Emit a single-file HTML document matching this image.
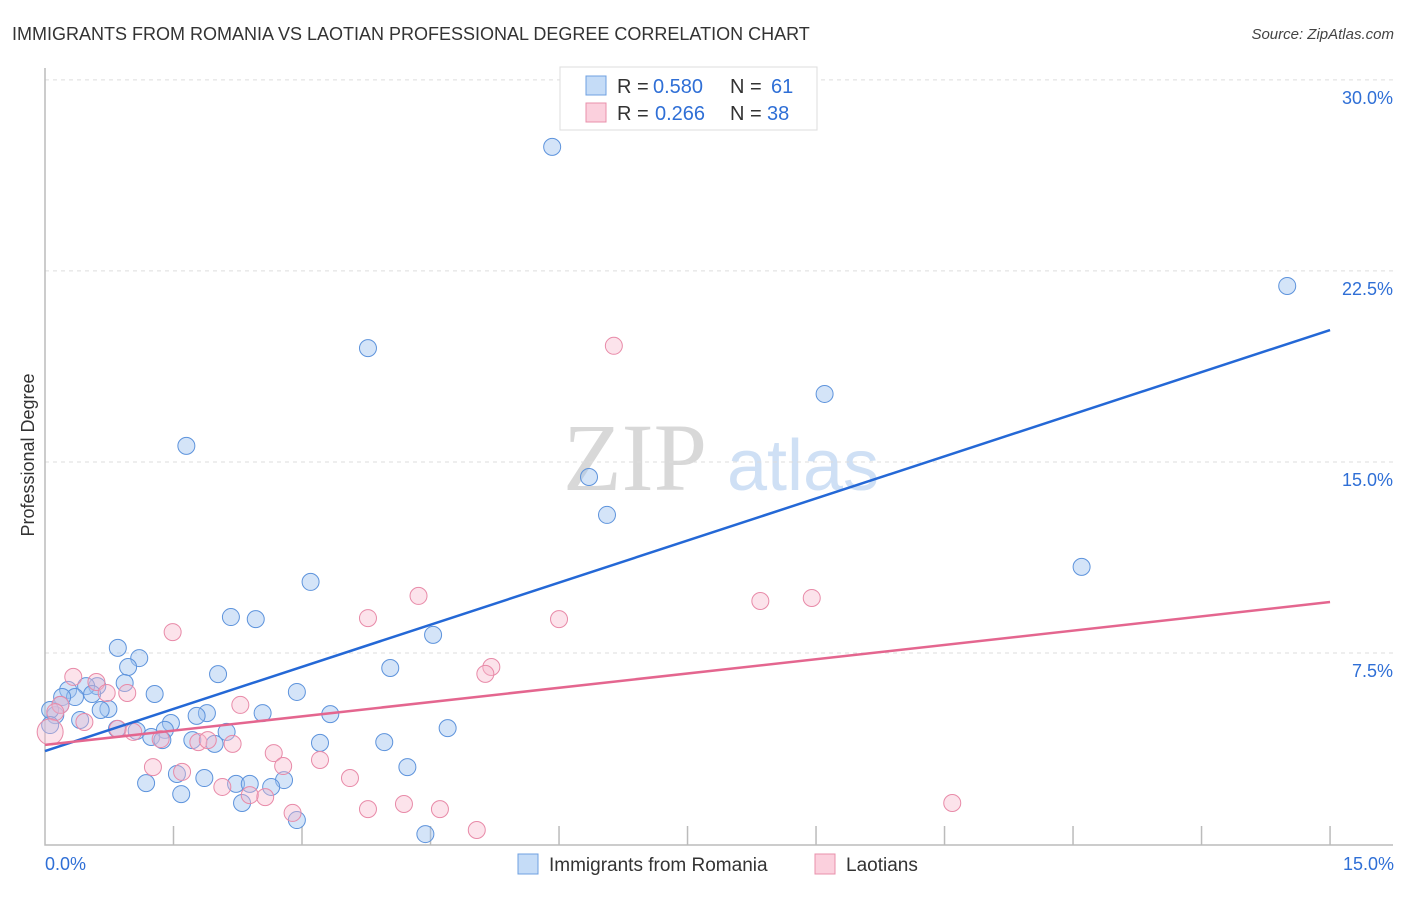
<!DOCTYPE html>
<html><head><meta charset="utf-8"><style>
body{margin:0;background:#fff;font-family:"Liberation Sans",sans-serif;}
</style></head><body>
<svg width="1406" height="892" viewBox="0 0 1406 892" font-family="Liberation Sans, sans-serif">
<text x="12" y="40" font-size="18" fill="#333">IMMIGRANTS FROM ROMANIA VS LAOTIAN PROFESSIONAL DEGREE CORRELATION CHART</text>
<text x="1394" y="39" font-size="15" font-style="italic" fill="#444" text-anchor="end">Source: ZipAtlas.com</text>
<g>
<text x="635" y="490" font-size="96" style="font-family:'Liberation Serif',serif" fill="#d8d8d8" text-anchor="middle">ZIP</text>
<text x="803" y="490" font-size="72" fill="#cfe0f5" text-anchor="middle">atlas</text>
</g>
<g id="grid"></g>
<g id="axes"></g>
<g id="marks"></g>
<text x="34" y="455" font-size="18" fill="#333" text-anchor="middle" transform="rotate(-90 34 455)">Professional Degree</text>
<g>
<rect x="560" y="67" width="257" height="63" fill="#fff" stroke="#ddd"/>
<rect x="586" y="76" width="20" height="19" fill="#c5dcf7" stroke="#6fa0e0"/>
<rect x="586" y="103" width="20" height="19" fill="#fbd0dd" stroke="#e890ab"/>
<text x="617" y="93" font-size="20" fill="#333">R =</text>
<text x="653" y="93" font-size="20" fill="#2f6fd6">0.580</text>
<text x="730" y="93" font-size="20" fill="#333">N =</text>
<text x="771" y="93" font-size="20" fill="#2f6fd6">61</text>
<text x="617" y="120" font-size="20" fill="#333">R =</text>
<text x="655" y="120" font-size="20" fill="#2f6fd6">0.266</text>
<text x="730" y="120" font-size="20" fill="#333">N =</text>
<text x="767" y="120" font-size="20" fill="#2f6fd6">38</text>
</g>
<g>
<rect x="518" y="854" width="20" height="20" fill="#c5dcf7" stroke="#6fa0e0"/>
<text x="549" y="871" font-size="19" fill="#333">Immigrants from Romania</text>
<rect x="815" y="854" width="20" height="20" fill="#fbd0dd" stroke="#e890ab"/>
<text x="846" y="871" font-size="19" fill="#333">Laotians</text>
</g>
</svg>
<script>
const yTicks=[7.5,15,22.5,30];
const yTickLabels=["7.5%","15.0%","22.5%","30.0%"];
const xTicks=[1.5,3,4.5,6,7.5,9,10.5,12,13.5,15];
const xLabels=["0.0%","15.0%"];
const romaniaX=[5.92,14.5,3.77,9.1,1.65,6.35,6.56,12.1,3.1,2.17,2.46,4.53,0.85,1.1,0.97,4.03,2.02,0.93,0.61,0.48,0.27,0.35,1.28,0.2,0.55,2.94,0.74,0.65,1.89,1.77,2.54,3.33,0.12,0.41,1.47,0.84,1.4,2.12,4.7,1.07,1.24,1.37,1.72,1.98,3.21,3.96,4.23,1.54,1.86,1.18,2.23,2.39,2.79,2.64,1.59,2.3,2.94,4.44,0.06,0.06,0.18];
const romaniaY=[27.37,21.91,19.47,17.67,15.63,14.41,12.92,10.88,10.29,8.91,8.83,8.21,7.7,7.3,6.95,6.91,6.67,6.32,6.2,6.2,6.05,5.77,5.89,5.77,5.89,5.97,5.3,5.26,5.14,5.03,5.14,5.1,5.06,4.87,4.75,4.52,4.48,4.4,4.55,4.44,4.2,4.08,4.08,3.93,3.97,4.0,3.02,2.75,2.59,2.39,2.36,2.36,2.51,2.24,1.96,1.61,0.94,0.39,5.26,4.67,5.46];
const laotianX=[6.64,4.36,8.35,8.95,3.77,6.0,1.49,5.21,5.14,0.33,0.6,0.72,0.96,0.18,0.12,0.46,0.85,1.03,1.35,1.79,1.9,2.19,2.28,2.67,3.21,2.78,1.26,1.6,3.56,2.07,2.57,2.39,2.89,3.77,4.19,4.61,5.04,10.59,0.06];
const laotianY=[19.56,9.74,9.54,9.66,8.87,8.83,8.32,6.95,6.68,6.56,6.36,5.93,5.93,5.46,5.18,4.79,4.52,4.4,4.12,4.0,4.08,3.93,5.46,3.57,3.3,3.06,3.02,2.83,2.59,2.24,1.84,1.92,1.22,1.37,1.57,1.37,0.55,1.61,4.4];
const trendRomania=[3.65,20.18];
const trendLaotian=[3.89,9.5];
const NS="http://www.w3.org/2000/svg";
const X=v=>45+v*85.67, Y=v=>844-v*25.47;
function mk(t,a,p){const e=document.createElementNS(NS,t);for(const k in a)e.setAttribute(k,a[k]);p.appendChild(e);return e;}
const grid=document.getElementById('grid'),axes=document.getElementById('axes'),marks=document.getElementById('marks');
yTicks.forEach((v,i)=>{
 const l=mk('line',{x1:45,x2:1393,y1:Y(v),y2:Y(v),stroke:'#ddd','stroke-dasharray':'4,4'},grid);
 
 
 const t=mk('text',{x:1393,y:Y(v)+24,'font-size':18,fill:'#2f6fd6','text-anchor':'end'},grid);
 t.textContent=yTickLabels[i];
 
 
});
const ax=mk('path',{d:'M45 68 V845 H1393',fill:'none',stroke:'#bbb','stroke-width':1.5},axes);


xTicks.forEach(v=>{const t=mk('line',{x1:X(v),x2:X(v),y1:826,y2:845,stroke:'#bbb','stroke-width':1.5},axes);
 
 });
[[0,'start',45],[15,'end',1394]].forEach((d,i)=>{const t=mk('text',{x:d[2],y:870,'font-size':18,fill:'#2f6fd6','text-anchor':d[1]},axes);t.textContent=xLabels[i];
 
 });
romaniaX.forEach((v,i)=>{const c=mk('circle',{cx:X(v),cy:Y(romaniaY[i]),r:8.5,fill:'rgba(160,196,240,0.45)',stroke:'#5d93dc','stroke-width':1},marks);
 
 });
laotianX.forEach((v,i)=>{const c=mk('circle',{cx:X(v),cy:Y(laotianY[i]),r:i==38?13:8.5,fill:'rgba(248,185,205,0.4)',stroke:'#e88aa8','stroke-width':1},marks);
 
 });
const t1=mk('line',{x1:X(0),y1:Y(trendRomania[0]),x2:X(15),y2:Y(trendRomania[1]),stroke:'#2468d6','stroke-width':2.5},marks);


const t2=mk('line',{x1:X(0),y1:Y(trendLaotian[0]),x2:X(15),y2:Y(trendLaotian[1]),stroke:'#e4668f','stroke-width':2.5},marks);


</script>
</body></html>
